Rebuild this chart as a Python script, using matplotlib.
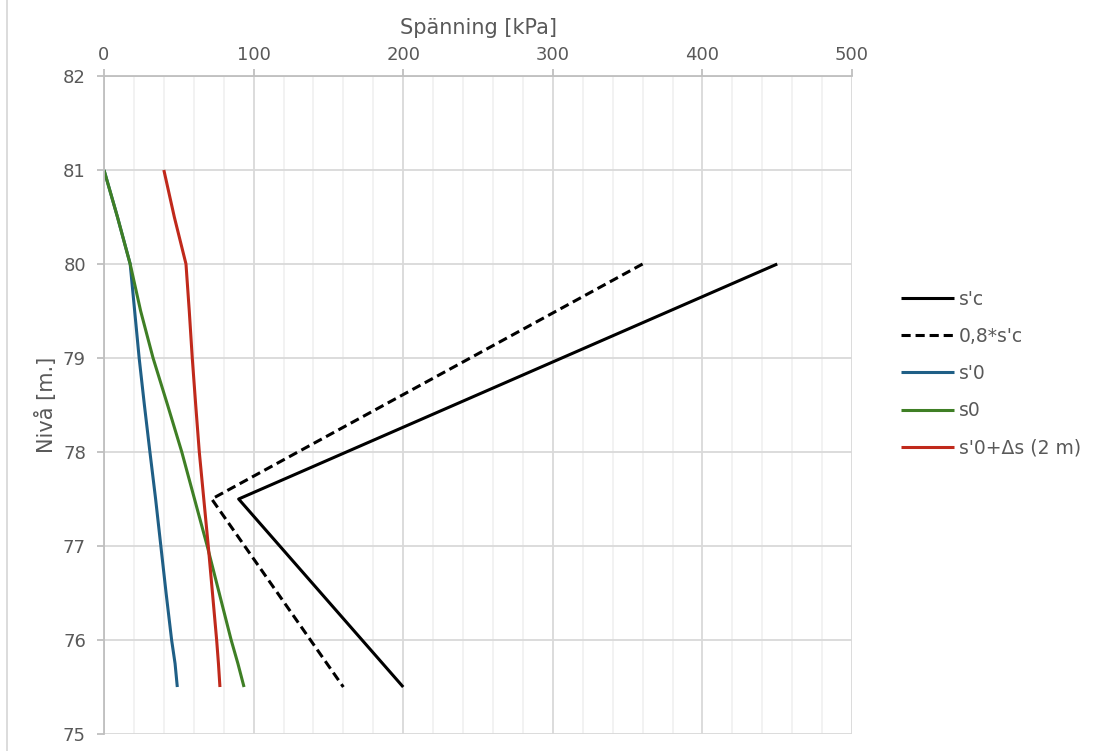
import matplotlib
matplotlib.use("Agg")
import matplotlib.pyplot as plt
from matplotlib.lines import Line2D
from matplotlib.ticker import MultipleLocator

# Förkonsolideringstryck s'c
sc_x = [450, 90, 200]
sc_y = [80, 77.5, 75.5]

# 0,8 * s'c
sc08_x = [360, 72, 160]
sc08_y = [80, 77.5, 75.5]

# Effektivspänning s'0
s0eff_y = [81, 80.5, 80, 79.5, 79, 78.5, 78, 77.5, 77, 76.5, 76, 75.75, 75.5]
s0eff_x = [0, 9, 17.5, 20.5, 23.5, 27, 30.7, 34.5, 38, 41.5, 45.2, 47.5, 49]

# Totalspänning s0
s0_y = [81, 80.5, 80, 79.5, 79, 78.5, 78, 77.5, 77, 76.5, 76, 75.75, 75.5]
s0_x = [0, 9, 17.5, 24.5, 32.8, 42.5, 52, 60.5, 69, 77, 85, 89.5, 93.6]

# s'0 + delta s (2 m)
s0ds_y = [81, 80.5, 80, 79.5, 79, 78.5, 78, 77.5, 77, 76.5, 76, 75.75, 75.5]
s0ds_x = [40, 47, 54.8, 57, 59, 61.3, 63.7, 66.7, 69.7, 72.5, 75.3, 76.5, 77.5]

series = [
    ("s'c", sc_x, sc_y, "#000000", "-"),
    ("0,8*s'c", sc08_x, sc08_y, "#000000", (0, (3, 1.6))),
    ("s'0", s0eff_x, s0eff_y, "#1f5f86", "-"),
    ("s0", s0_x, s0_y, "#3f7f25", "-"),
    ("s'0+Δs (2 m)", s0ds_x, s0ds_y, "#c0291b", "-"),
]

text_col = "#595959"
plt.rcParams["font.family"] = ["DejaVu Sans"]

fig = plt.figure(figsize=(10.97, 7.51), dpi=100)
ax = fig.add_axes([0.0948, 0.0226, 0.6819, 0.8762])

for label, xs, ys, col, ls in series:
    ax.plot(xs, ys, color=col, linestyle=ls, linewidth=2.2, label=label,
            solid_capstyle="butt", dash_capstyle="butt")

ax.set_xlim(0, 500)
ax.set_ylim(75, 82)
ax.xaxis.set_major_locator(MultipleLocator(100))
ax.xaxis.set_minor_locator(MultipleLocator(20))
ax.yaxis.set_major_locator(MultipleLocator(1))
ax.xaxis.tick_top()
ax.xaxis.set_label_position("top")

ax.grid(which="major", axis="both", color="#d9d9d9", linewidth=1.3)
ax.grid(which="minor", axis="x", color="#f0f0f0", linewidth=1.2)
ax.set_axisbelow(True)

for s in ["right", "bottom"]:
    ax.spines[s].set_visible(False)
for s in ["left", "top"]:
    ax.spines[s].set_color("#bfbfbf")
    ax.spines[s].set_linewidth(1.3)

ax.tick_params(which="major", length=5, width=1.3, color="#bfbfbf",
               labelsize=13, labelcolor=text_col)
ax.tick_params(axis="x", which="minor", length=0)
ax.tick_params(axis="x", pad=4)
ax.tick_params(axis="y", pad=8)

ax.set_xlabel("Spänning [kPa]", fontsize=15, color=text_col, labelpad=8)
ax.set_ylabel("Nivå [m.]", fontsize=15, color=text_col, labelpad=4)

leg = ax.legend(loc="center left", bbox_to_anchor=(1.055, 0.548), frameon=False,
                fontsize=13.5, handlelength=2.85, handletextpad=0.27,
                labelspacing=0.97, borderaxespad=0)
for t in leg.get_texts():
    t.set_color(text_col)

# left chart-area border
fig.add_artist(Line2D([0.0065, 0.0065], [0, 1], color="#d9d9d9", linewidth=1.3,
                      transform=fig.transFigure))

fig.savefig("out.png", dpi=100)
